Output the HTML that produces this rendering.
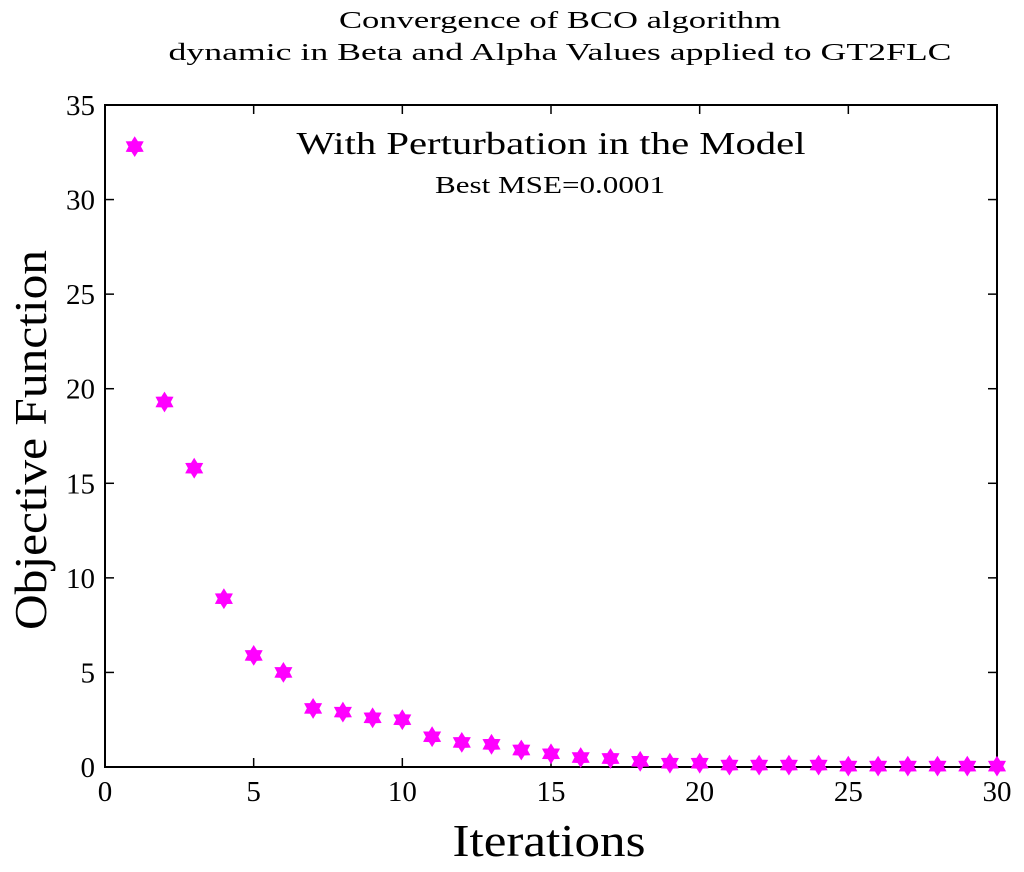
<!DOCTYPE html>
<html><head><meta charset="utf-8"><style>
body{margin:0;background:#fff;}
svg text{font-family:"Liberation Serif",serif;fill:#000;}
</style></head><body>
<svg id="chart" width="1024" height="867" xmlns="http://www.w3.org/2000/svg">
<text x="560" y="28" font-size="24" text-anchor="middle" textLength="442" lengthAdjust="spacingAndGlyphs">Convergence of BCO algorithm</text>
<text x="560" y="60" font-size="24" text-anchor="middle" textLength="783" lengthAdjust="spacingAndGlyphs">dynamic in Beta and Alpha Values applied to GT2FLC</text>
<text x="551" y="154" font-size="32" text-anchor="middle" textLength="509" lengthAdjust="spacingAndGlyphs">With Perturbation in the Model</text>
<text x="550" y="193" font-size="24" text-anchor="middle" textLength="230" lengthAdjust="spacingAndGlyphs">Best MSE=0.0001</text>
<g id="axes"></g>
<g id="marks"></g>
<text x="549" y="856" font-size="46" text-anchor="middle" textLength="193" lengthAdjust="spacingAndGlyphs">Iterations</text>
<text transform="translate(46,440) rotate(-90)" font-size="46" text-anchor="middle" textLength="380" lengthAdjust="spacingAndGlyphs">Objective Function</text>
</svg>
<script>
const iterations=[1,2,3,4,5,6,7,8,9,10,11,12,13,14,15,16,17,18,19,20,21,22,23,24,25,26,27,28,29,30];
const objective=[32.8,19.3,15.8,8.9,5.9,5.0,3.1,2.9,2.6,2.5,1.6,1.3,1.2,0.9,0.7,0.5,0.45,0.3,0.2,0.2,0.1,0.1,0.1,0.1,0.05,0.05,0.05,0.05,0.05,0.05];
const xTicks=[0,5,10,15,20,25,30];
const yTicks=[0,5,10,15,20,25,30,35];
const L=105,R=997,T=105,B=767;
const X=v=>L+(v-0)/(30-0)*(R-L);
const Y=v=>B-(v-0)/(35-0)*(B-T);
const NS="http://www.w3.org/2000/svg";
const axes=document.getElementById('axes'),marks=document.getElementById('marks');
function mk(tag,a,p){const e=document.createElementNS(NS,tag);for(const k in a)e.setAttribute(k,a[k]);p.appendChild(e);return e;}
const frame=mk('rect',{x:L,y:T,width:R-L,height:B-T,fill:'none',stroke:'#000','stroke-width':2},axes);


xTicks.forEach(v=>{
 const x=X(v);
 mk('line',{x1:x,y1:B,x2:x,y2:B-9,stroke:'#000','stroke-width':1.5},axes);
 mk('line',{x1:x,y1:T,x2:x,y2:T+9,stroke:'#000','stroke-width':1.5},axes);
 const t=mk('text',{x:x,y:B+34,'font-size':29,'text-anchor':'middle'},axes);
 t.textContent=v;
 
 
});
yTicks.forEach(v=>{
 const y=Y(v);
 mk('line',{x1:L,y1:y,x2:L+9,y2:y,stroke:'#000','stroke-width':1.5},axes);
 mk('line',{x1:R,y1:y,x2:R-9,y2:y,stroke:'#000','stroke-width':1.5},axes);
 const t=mk('text',{x:L-10,y:y+10,'font-size':29,'text-anchor':'end'},axes);
 t.textContent=v;
 
 
});
function star(cx,cy){const r=9,pts=[];for(let i=0;i<12;i++){const rr=i%2?r*0.6:r;const a=Math.PI/2+i*Math.PI/6;pts.push((cx+rr*Math.cos(a)).toFixed(1)+','+(cy-rr*Math.sin(a)).toFixed(1));}return pts.join(' ');}
iterations.forEach((it,i)=>{
 const p=mk('polygon',{points:star(X(it),Y(objective[i])),fill:'#ff00ff',stroke:'#ff00ff','stroke-width':1.5},marks);
 
 
});
</script>
</body></html>
